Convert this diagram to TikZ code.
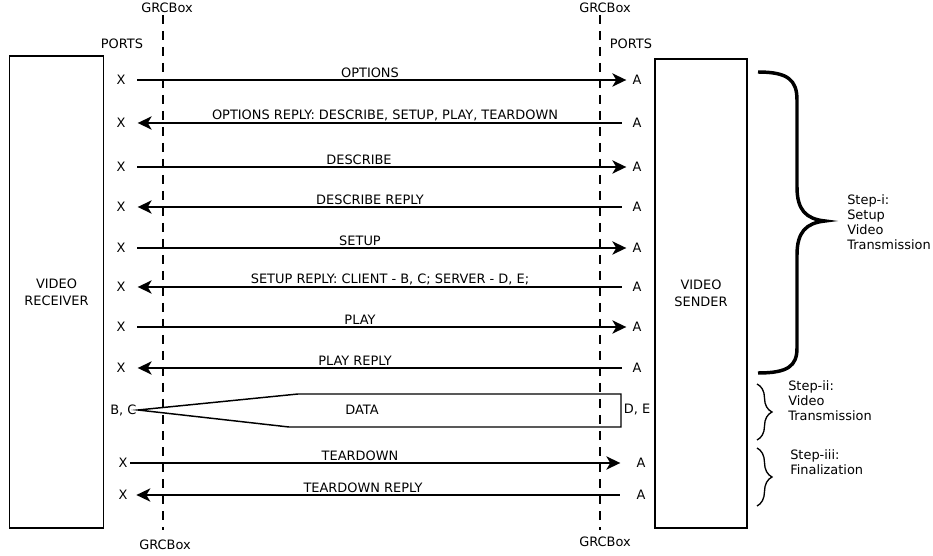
\documentclass[tikz,border=0pt]{standalone}
\usepackage{fontspec}
\setmainfont{DejaVu Sans}
\usetikzlibrary{arrows.meta,decorations.pathreplacing}
\begin{document}
\begin{tikzpicture}[x=0.75pt,y=-0.75pt,
  every node/.style={font=\fontsize{9.7}{11.25}\selectfont},
  port/.style={inner sep=0pt},
  lbl/.style={above,inner sep=1.6pt},
  box/.style={draw,line width=1.1pt,align=center,font=\fontsize{9.7}{12.75}\selectfont},
  msg/.style={line width=1.1pt,-{Stealth[length=10.5pt,width=10pt,inset=3pt]}},
  grc/.style={line width=1.5pt,dash pattern=on 6.75pt off 5.25pt},
  steptxt/.style={align=left,anchor=north west,inner sep=0pt,font=\fontsize{9.7}{11.25}\selectfont}
]
\useasboundingbox (0,0) rectangle (933,556);
% boxes
\node[box,minimum width=70.5pt,minimum height=354pt] (recv) at (56.5,292) {VIDEO\\RECEIVER};
\node[box,minimum width=69pt,minimum height=351.75pt] (send) at (701,293.5) {VIDEO\\SENDER};
% GRCBox lines
\node (g1t) at (167,8) {GRCBox};
\node (g2t) at (605,8) {GRCBox};
\node (g1b) at (165,545) {GRCBox};
\node (g2b) at (605,542) {GRCBox};
\coordinate (l1t) at (163,15); \coordinate (l1b) at (163,530);
\coordinate (l2t) at (600,15); \coordinate (l2b) at (600,530);
\draw[grc] (l1t) -- (l1b);
\draw[grc] (l2t) -- (l2b);
\node (p1) at (122,44) {PORTS};
\node (p2) at (631,44) {PORTS};
% ports
\foreach \i/\y in {1/80,2/123,3/167,4/207,5/248,6/287,7/327,8/368}{
  \node[port] (x\i) at (121,\y) {X};
  \node[port] (a\i) at (637,\y) {A};
}
\node[port] (x9) at (123,463) {X};
\node[port] (a9) at (641,463) {A};
\node[port] (x10) at (123,495) {X};
\node[port] (a10) at (641,495) {A};
% messages
\foreach \i in {1,3,5,7}{
  \draw[msg,shorten <=8.7pt,shorten >=4.5pt] (x\i.east) -- (a\i.west);
}
\foreach \i in {2,4,6,8}{
  \draw[msg,shorten <=8pt,shorten >=9pt] (a\i.west) -- (x\i.east);
}
\draw[msg,shorten <=2pt,shorten >=12pt] (x9.east) -- (a9.west);
\draw[msg,shorten <=12.5pt,shorten >=6.5pt] (a10.west) -- (x10.east);
\node[lbl] (m1) at (370,80) {OPTIONS};
\node[lbl] (m2) at (385,123) {OPTIONS REPLY: DESCRIBE, SETUP, PLAY, TEARDOWN};
\node[lbl] (m3) at (359,167) {DESCRIBE};
\node[lbl] (m4) at (370,207) {DESCRIBE REPLY};
\node[lbl] (m5) at (360,248) {SETUP};
\node[lbl] (m6) at (390,287) {SETUP REPLY: CLIENT - B, C; SERVER - D, E;};
\node[lbl] (m7) at (360,327) {PLAY};
\node[lbl] (m8) at (355,368) {PLAY REPLY};
\node[lbl] (m9) at (360,463) {TEARDOWN};
\node[lbl] (m10) at (363,495) {TEARDOWN REPLY};
% data
\coordinate (dp) at (138,410);
\node[port,left,inner sep=1pt] (bc) at (dp) {B, C};
\node[port,right,inner sep=2pt] (de) at (621,410) {D, E};
\draw[line width=1.1pt] (dp) -- (298,394) -- (621,394) -- (621,427) -- (289,427) -- cycle;
\node (data) at (362,410) {DATA};
% braces
\draw[line width=2.6pt] (758,72) .. controls (788,72) and (797,80) .. (797,100) -- (797,187)
  .. controls (797,210) and (806,219) .. (825,221)
  .. controls (806,223) and (797,232) .. (797,255) -- (797,348)
  .. controls (797,366) and (788,373) .. (758,373);
\draw[line width=1pt,decorate,decoration={brace,amplitude=11.25pt}] (757,384) -- (757,440);
\draw[line width=1pt,decorate,decoration={brace,amplitude=11.25pt}] (757,448) -- (757,506);
\node[steptxt] (s1) at (847,194) {Step-i:\\Setup\\Video\\Transmission};
\node[steptxt] (s2) at (788,380) {Step-ii:\\Video\\Transmission};
\node[steptxt] (s3) at (790,449) {Step-iii:\\Finalization};
\end{tikzpicture}
\end{document}
